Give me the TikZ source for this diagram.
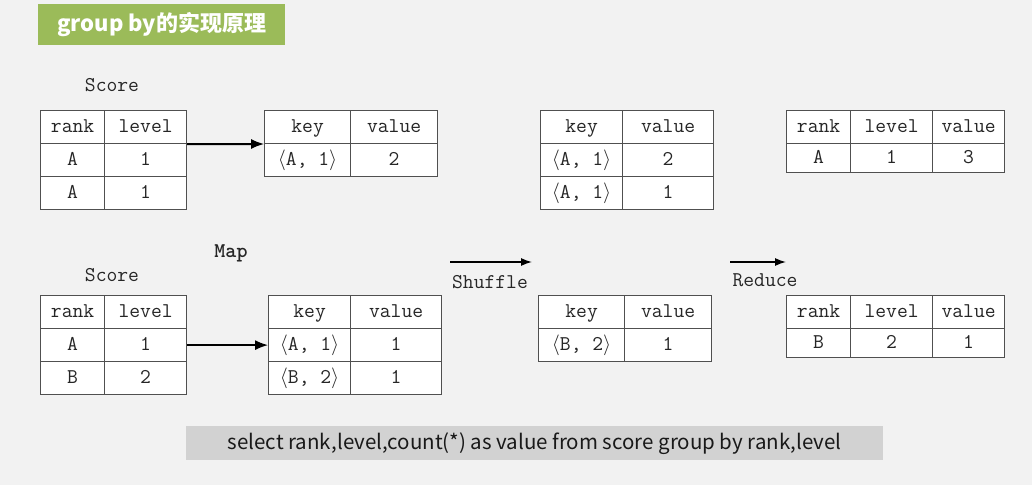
\documentclass[tikz,border=0pt]{standalone}
\usepackage{fontspec}
\usepackage{tikz}
\usetikzlibrary{matrix,arrows.meta}
\newfontfamily\cjk{Noto Sans CJK SC}
\definecolor{titlegreen}{HTML}{9BBB59}
\definecolor{bggray}{HTML}{F2F2F2}
\definecolor{sqlgray}{HTML}{D2D2D2}
\definecolor{gridline}{HTML}{505050}
\tikzset{
  tbl/.style={matrix of nodes, anchor=north west, inner sep=0pt,
    column sep=-0.8pt, row sep=-0.8pt,
    nodes={draw=gridline, line width=0.8pt, fill=white, minimum height=33pt,
      inner sep=0pt, text height=14pt, text depth=4pt, text=black!85,
      font=\ttfamily\fontsize{21}{21}\selectfont}},
  lbl/.style={font=\ttfamily\fontsize{21}{21}\selectfont, text=black!85},
  arr/.style={-{Latex[length=13pt,width=10pt]}, line width=2pt},
  steparr/.style={-{Latex[length=11pt,width=8pt]}, line width=1.4pt}
}
\begin{document}
\begin{tikzpicture}[x=1pt,y=-1pt]
\useasboundingbox (0,0) rectangle (1032,485);
\fill[bggray] (0,0) rectangle (1032,485);
% title bar
\node[fill=titlegreen, anchor=north west, minimum width=247pt, minimum height=41pt,
  text=white, font=\cjk\bfseries\fontsize{22}{22}\selectfont] (title) at (38,4) {group by的实现原理};
% first row of tables
\node[lbl] (score1) at (112,85) {Score};
\matrix[tbl, column 1/.style={nodes={minimum width=64pt}},
  column 2/.style={nodes={minimum width=82pt}}] (score1t) at (40,110) {
  rank & level \\
  A & 1 \\
  A & 1 \\
};
\matrix[tbl, column 1/.style={nodes={minimum width=86pt}},
  column 2/.style={nodes={minimum width=87pt}}] (map1t) at (264,110) {
  key & value \\
  $\langle$A, 1$\rangle$ & 2 \\
};
\matrix[tbl, column 1/.style={nodes={minimum width=82pt}},
  column 2/.style={nodes={minimum width=91pt}}] (shuf1t) at (540,110) {
  key & value \\
  $\langle$A, 1$\rangle$ & 2 \\
  $\langle$A, 1$\rangle$ & 1 \\
};
\matrix[tbl, column 1/.style={nodes={minimum width=64pt}},
  column 2/.style={nodes={minimum width=82pt}},
  column 3/.style={nodes={minimum width=72pt}},
  row 2/.style={nodes={minimum height=29pt}}] (red1t) at (786,110) {
  rank & level & value \\
  A & 1 & 3 \\
};
\draw[arr] (score1t-1-2.south east) -- (map1t-1-1.south west);
% step labels
\node[lbl, font=\ttfamily\bfseries\fontsize{21}{21}\selectfont] (map) at (231,253) {Map};
\coordinate (shufA) at (450,262);
\coordinate (shufB) at (532,262);
\draw[steparr] (shufA) -- (shufB);
\node[lbl] (shuffle) at (490,282) {Shuffle};
\coordinate (redA) at (730,262);
\coordinate (redB) at (786,262);
\draw[steparr] (redA) -- (redB);
\node[lbl] (reduce) at (765,280) {Reduce};
% second row of tables
\node[lbl] (score2) at (112,275) {Score};
\matrix[tbl, column 1/.style={nodes={minimum width=64pt}},
  column 2/.style={nodes={minimum width=82pt}}] (score2t) at (40,295) {
  rank & level \\
  A & 1 \\
  B & 2 \\
};
\matrix[tbl, column 1/.style={nodes={minimum width=82pt}},
  column 2/.style={nodes={minimum width=91pt}}] (map2t) at (268,295) {
  key & value \\
  $\langle$A, 1$\rangle$ & 1 \\
  $\langle$B, 2$\rangle$ & 1 \\
};
\matrix[tbl, column 1/.style={nodes={minimum width=86pt}},
  column 2/.style={nodes={minimum width=87pt}}] (shuf2t) at (538,295) {
  key & value \\
  $\langle$B, 2$\rangle$ & 1 \\
};
\matrix[tbl, column 1/.style={nodes={minimum width=64pt}},
  column 2/.style={nodes={minimum width=82pt}},
  column 3/.style={nodes={minimum width=72pt}},
  row 2/.style={nodes={minimum height=29pt}}] (red2t) at (786,295) {
  rank & level & value \\
  B & 2 & 1 \\
};
\draw[arr] (score2t-2-2.east) -- (map2t-2-1.west);
% sql line
\node[fill=sqlgray, anchor=north west, minimum width=697pt, minimum height=34pt,
  text=black!90, font=\cjk\fontsize{20.5}{20.5}\selectfont] (sql) at (186,426)
  {select rank,level,count(*) as value from score group by rank,level};
\end{tikzpicture}
\end{document}
